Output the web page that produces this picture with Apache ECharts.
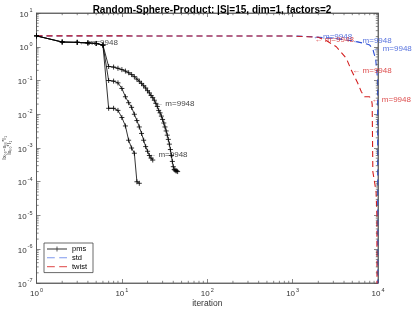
<!DOCTYPE html>
<html><head><meta charset="utf-8">
<script src="https://cdn.jsdelivr.net/npm/echarts@6/dist/echarts.min.js"></script>
<style>html,body{margin:0;padding:0;background:#fff}#c{width:415px;height:309px}</style>
</head><body><div id="c"></div>
<script>
// ---------- data ----------
const titleText = 'Random-Sphere-Product: |S|=15, dim=1, factors=2';
const xAxisName = 'iteration';
const seriesNames = ['pms', 'std', 'twist'];
const labelText = '\u2190 m=9948';

// pms: three runs (shared start, then three branches)
const pmsRunAIter = [1,2,3,4,5,6,7,8,9,10,11,12,13,14,15,16,17,18,19,20,21,22,23,24,25,26,27,28,29,30,31,32,33,34,35,36,37,38,39,40,41,42,43,44,45];
const pmsRunAVal  = [2.1,1.38,1.35,1.3,1.25,1.12,0.26,0.25,0.23,0.21,0.19,0.17,0.15,0.13,0.11,0.095,0.082,0.07,0.06,0.05,0.043,0.036,0.031,0.026,0.021,0.017,0.013,0.011,0.0088,0.007,0.0055,0.0042,0.0032,0.0024,0.0018,0.0013,0.0009,0.0006,0.0004,0.00028,0.00023,0.00022,0.00021,0.00021,0.0002];
const pmsRunBIter = [1,2,3,4,5,6,7,8,9,10,11,12,13,14,15,16,17,18,19,20,21,22,23];
const pmsRunBVal  = [2.1,1.38,1.35,1.3,1.25,1.12,0.10,0.096,0.085,0.058,0.033,0.022,0.016,0.010,0.0065,0.0042,0.0027,0.0017,0.0011,0.0008,0.0006,0.0005,0.00044];
const pmsRunCIter = [1,2,3,4,5,6,7,8,9,10,11,12,13,14,15,16];
const pmsRunCVal  = [2.1,1.38,1.35,1.3,1.25,1.12,0.015,0.015,0.013,0.008,0.0045,0.0017,0.001,0.0007,0.0001,0.00009];

// std (blue dashed)
const stdIter = [1,1000,1700,3000,5000,7000,8000,8700,9400,9900,9950];
const stdVal  = [2.1,2.08,1.98,1.78,1.5,1.25,1.12,0.85,0.42,0.1,1e-8];

// twist (red dashed)
const twistIter = [1,1000,2000,2500,3250,4250,4860,5800,6360,6950,7950,8400,8550,8700,9100,9500,9700,9750];
const twistVal  = [2.1,2.08,1.9,1.5,1.0,0.455,0.205,0.083,0.047,0.033,0.033,0.026,0.02,2e-4,1e-4,5e-5,1e-5,1e-8];

// annotation anchors ("<- m=9948")
const pmsLabelPts   = [[3.1,1.33],[24.5,0.021],[20.3,0.00065]];
const stdLabelPts   = [[1720,2.0],[5000,1.48],[8600,0.86]];
const twistLabelPts = [[1800,1.58],[5000,0.19],[8400,0.026]];

// axis ranges
const xMin = 1, xMax = 10000;
const yMin = 1e-7, yMax = 10;

// ---------- chart ----------
const FONT = 'Liberation Sans, Arial, Helvetica, sans-serif';
const AX = '#555';
const BLACK = '#000000', BLUE = '#2d4fd6', RED = '#d42020';
const plusSym = 'path://M0,5L10,5M5,0L5,10';

function zip(a,b){ return a.map((v,i)=>[v,b[i]]); }
function supFmt(v){ const e = Math.round(Math.log10(v)); return '{b|10}{s|' + e + '}'; }
const tickRich = { b:{fontSize:8, fontFamily:FONT, color:'#333', lineHeight:11, verticalAlign:'bottom'},
                   s:{fontSize:5.5, fontFamily:FONT, color:'#333', lineHeight:11, verticalAlign:'top', padding:[0,0,0,1]} };

// minor tick values (2..9 per decade) for axis decoration
function minorTicks(lo, hi){ const out=[]; for(let d=lo; d<hi; d*=10){ for(let k=2;k<=9;k++){ out.push(+(d*k).toPrecision(3)); } } return out; }
const xMinor = minorTicks(xMin, xMax);
const yMinor = minorTicks(yMin, yMax);

function pmsSeries(it, val){
  return { name:'pms', type:'line', data:zip(it,val), xAxisIndex:0, yAxisIndex:0,
    symbol:plusSym, symbolSize:5, showAllSymbol:true,
    lineStyle:{color:BLACK, width:0.8}, itemStyle:{color:BLACK, borderColor:BLACK, borderWidth:0.8},
    emphasis:{disabled:true}, z:5, animation:false };
}
function labelSeries(pts, color){
  return { type:'scatter', data:pts, symbol:'circle', symbolSize:0.1, itemStyle:{color:'rgba(0,0,0,0)'},
    label:{show:true, position:'right', distance:0, formatter:labelText, color:color, fontSize:8, fontFamily:FONT},
    emphasis:{disabled:true}, silent:true, z:6, animation:false };
}
function tickSeries(vals, isX){
  return { type:'custom', silent:true, animation:false, z:4,
    data: vals.map(v=> isX ? [v, yMin] : [xMin, v]),
    renderItem:function(params, api){
      const L = 2.2;
      const v = api.value(isX?0:1);
      let p1, p2, lines;
      if(isX){
        p1 = api.coord([v, yMin]); p2 = api.coord([v, yMax]);
        lines = [[p1[0],p1[1],p1[0],p1[1]-L],[p2[0],p2[1],p2[0],p2[1]+L]];
      } else {
        p1 = api.coord([xMin, v]); p2 = api.coord([xMax, v]);
        lines = [[p1[0],p1[1],p1[0]+L,p1[1]],[p2[0],p2[1],p2[0]-L,p2[1]]];
      }
      return { type:'group', children: lines.map(l=>({type:'line', shape:{x1:l[0],y1:l[1],x2:l[2],y2:l[3]}, style:{stroke:AX, lineWidth:0.7}})) };
    }, clip:false };
}

const iconPms  = 'path://M0,4.6H20V5.4H0Z M9.6,2.5H10.4V7.5H9.6Z';
const iconDash = 'path://M0,4.5H7V5.5H0Z M11,4.5H18V5.5H11Z';
const legendItemBase = { borderWidth:0, borderColor:'transparent' };

const chart = echarts.init(document.getElementById('c'), null, {renderer:'canvas'});
const axisCommon = { axisLine:{show:true, lineStyle:{color:AX, width:0.8}}, splitLine:{show:false} };
chart.setOption({
  backgroundColor:'#fff',
  animation:false,
  textStyle:{fontFamily:FONT},
  title:{ text:titleText, left:207, textAlign:'center', top:0, textStyle:{fontSize:10, fontWeight:'bold', color:'#000', fontFamily:FONT} },
  grid:{ left:36.5, right:37, top:13, bottom:26, show:true, borderColor:AX, borderWidth:0.8, outerBoundsMode:'none', containLabel:false },
  legend:{ data:[{name:'pms', icon:iconPms, itemStyle:Object.assign({color:'#333'}, legendItemBase)},
                 {name:'std', icon:iconDash, itemStyle:Object.assign({color:'#7f99ee'}, legendItemBase)},
                 {name:'twist', icon:iconDash, itemStyle:Object.assign({color:'#e56a6a'}, legendItemBase)}],
    orient:'vertical', left:44, top:243, itemWidth:20, itemHeight:9, itemGap:0.8,
    padding:[2,6,2,3], borderColor:'#444', borderWidth:0.8, backgroundColor:'#fff',
    itemStyle:{borderWidth:0}, lineStyle:{width:0},
    textStyle:{fontSize:7.5, color:'#000', fontFamily:FONT}, selectedMode:false },
  xAxis:[
    Object.assign({ type:'log', logBase:10, min:xMin, max:xMax, position:'bottom',
      name:xAxisName, nameLocation:'middle', nameGap:16, nameMoveOverlap:false, nameTextStyle:{fontSize:8.5, color:'#333', fontFamily:FONT},
      axisTick:{show:true, inside:true, length:4, lineStyle:{color:AX, width:0.7}},
      axisLabel:{formatter:supFmt, rich:tickRich, margin:4} }, axisCommon),
    Object.assign({ type:'log', logBase:10, min:xMin, max:xMax, position:'top',
      axisTick:{show:true, inside:true, length:4, lineStyle:{color:AX, width:0.7}}, axisLabel:{show:false} }, axisCommon)
  ],
  yAxis:[
    Object.assign({ type:'log', logBase:10, min:yMin, max:yMax, interval:1, position:'left',
      name:'{n|\u2016x\u2080\u2080\u2212x\u2080\u2080*\u2016\u2081}\n{d|\u2016x\u2080\u2080*\u2016\u2081}',
      nameLocation:'middle', nameGap:24, nameRotate:90, nameMoveOverlap:false,
      nameTextStyle:{ rich:{ n:{fontSize:5, color:'#222', fontFamily:FONT, lineHeight:5.5},
                             d:{fontSize:5, color:'#222', fontFamily:FONT, lineHeight:5.5} } },
      axisTick:{show:true, inside:true, length:4, lineStyle:{color:AX, width:0.7}},
      axisLabel:{formatter:supFmt, rich:tickRich, margin:4} }, axisCommon),
    Object.assign({ type:'log', logBase:10, min:yMin, max:yMax, interval:1, position:'right',
      axisTick:{show:true, inside:true, length:4, lineStyle:{color:AX, width:0.7}}, axisLabel:{show:false} }, axisCommon)
  ],
  series:[
    tickSeries(xMinor, true),
    tickSeries(yMinor, false),
    { name:'std', type:'line', data:zip(stdIter,stdVal), symbol:'none', lineStyle:{color:BLUE, width:1.1, type:[6,4]}, itemStyle:{color:BLUE}, z:3, emphasis:{disabled:true} },
    { name:'twist', type:'line', data:zip(twistIter,twistVal), symbol:'none', lineStyle:{color:RED, width:1.1, type:[6,4]}, itemStyle:{color:RED}, z:3, emphasis:{disabled:true} },
    pmsSeries(pmsRunAIter, pmsRunAVal),
    pmsSeries(pmsRunBIter, pmsRunBVal),
    pmsSeries(pmsRunCIter, pmsRunCVal),
    labelSeries(pmsLabelPts, '#111'),
    labelSeries(stdLabelPts, BLUE),
    labelSeries(twistLabelPts, RED)
  ]
});
</script>
</body></html>
